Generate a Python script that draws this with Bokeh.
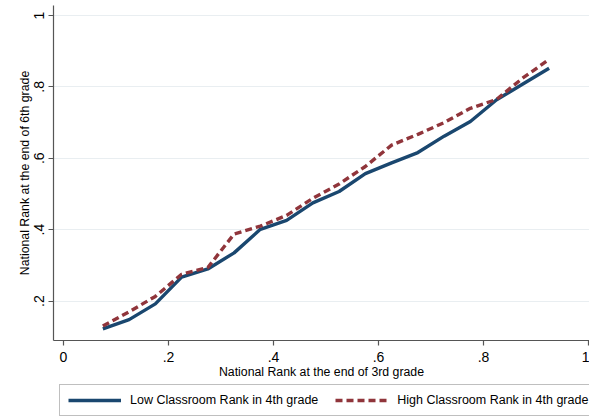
from bokeh.plotting import figure
from bokeh.layouts import column
from bokeh.models import Range1d, FixedTicker, Legend, LegendItem
from bokeh.embed import file_html
from bokeh.resources import INLINE

# ---- data ----
rank3 = [0.075, 0.125, 0.175, 0.225, 0.275, 0.325, 0.375, 0.425, 0.475,
         0.525, 0.575, 0.625, 0.675, 0.725, 0.775, 0.825, 0.875, 0.925]
low_rank6 = [0.122, 0.148, 0.192, 0.267, 0.290, 0.335, 0.401, 0.426, 0.475,
             0.507, 0.557, 0.587, 0.616, 0.662, 0.703, 0.764, 0.808, 0.852]
high_rank6 = [0.130, 0.170, 0.213, 0.275, 0.294, 0.388, 0.410, 0.440, 0.488,
              0.528, 0.577, 0.637, 0.667, 0.700, 0.740, 0.765, 0.825, 0.877]
x_ticks = [0, 0.2, 0.4, 0.6, 0.8, 1]
x_tick_labels = ["0", ".2", ".4", ".6", ".8", "1"]
y_ticks = [0.2, 0.4, 0.6, 0.8, 1]
y_tick_labels = [".2", ".4", ".6", ".8", "1"]
series_names = ["Low Classroom Rank in 4th grade", "High Classroom Rank in 4th grade"]
x_title = "National Rank at the end of 3rd grade"
y_title = "National Rank at the end of 6th grade"

FONT = "Liberation Sans"
NAVY = "#1a476f"
MAROON = "#90353b"
LOW_STYLE = dict(line_color=NAVY, line_width=3.4)
HIGH_STYLE = dict(line_color=MAROON, line_width=3.4, line_dash="7 4")

# ---- main chart ----
p = figure(width=589, height=384, output_backend="svg", toolbar_location=None,
           x_range=Range1d(-0.019, 1.0019), y_range=Range1d(0.0895, 1.028))
p.min_border = 0
p.min_border_left = 53
p.min_border_right = 0
p.min_border_top = 5
p.min_border_bottom = 44
p.outline_line_color = None
p.background_fill_color = "white"
p.border_fill_color = "white"

p.line(rank3, low_rank6, **LOW_STYLE)
p.line(rank3, high_rank6, **HIGH_STYLE)

for ax in (p.xaxis[0], p.yaxis[0]):
    ax.axis_line_color = "#555555"
    ax.axis_line_width = 1.2
    ax.major_tick_line_color = "#555555"
    ax.major_tick_line_width = 1.2
    ax.major_tick_out = 5
    ax.major_tick_in = 0
    ax.minor_tick_line_color = None
    ax.major_label_text_font = FONT
    ax.major_label_text_font_size = "14px"
    ax.major_label_text_color = "black"
    ax.axis_label_text_font = FONT
    ax.axis_label_text_font_size = "12.3px"
    ax.axis_label_text_font_style = "normal"
    ax.axis_label_text_color = "black"
    ax.axis_label_standoff = 0

p.xaxis.ticker = FixedTicker(ticks=x_ticks)
p.xaxis.major_label_overrides = {t: l for t, l in zip(x_ticks, x_tick_labels)}
p.xaxis.major_label_standoff = 6
p.xaxis.axis_label = x_title
p.yaxis.ticker = FixedTicker(ticks=y_ticks)
p.yaxis.major_label_overrides = {t: l for t, l in zip(y_ticks, y_tick_labels)}
p.yaxis.major_label_orientation = "vertical"
p.yaxis.major_label_standoff = 4
p.yaxis.axis_label = y_title

p.xgrid.grid_line_color = None
p.ygrid.ticker = FixedTicker(ticks=y_ticks)
p.ygrid.grid_line_color = "#e9eef1"
p.ygrid.grid_line_width = 1

# ---- legend strip (frame aligned with the chart's frame) ----
lg = figure(width=589, height=34, output_backend="svg", toolbar_location=None,
            x_range=Range1d(-0.019, 1.0019), y_range=Range1d(5, 6),
            x_axis_location=None, y_axis_location=None)
lg.min_border = 0
lg.min_border_left = 53
lg.outline_line_color = None
lg.grid.visible = False
lg.background_fill_color = "white"
lg.border_fill_color = "white"
# same series drawn outside the strip's visible range, only to carry the legend keys
k_low = lg.line(rank3, low_rank6, **LOW_STYLE)
k_high = lg.line(rank3, high_rank6, **HIGH_STYLE)

legend = Legend(items=[LegendItem(label=series_names[0], renderers=[k_low]),
                       LegendItem(label=series_names[1], renderers=[k_high])],
                location=(6, 2), orientation="horizontal")
legend.margin = 0
legend.padding = 8
legend.spacing = 17
legend.glyph_width = 53
legend.glyph_height = 14
legend.label_height = 14
legend.label_standoff = 9
legend.label_text_font = FONT
legend.label_text_font_size = "12.5px"
legend.label_text_color = "black"
legend.border_line_color = "#808080"
legend.border_line_width = 1.3
legend.background_fill_color = "white"
legend.background_fill_alpha = 1
lg.add_layout(legend, "center")

layout = column(p, lg, spacing=0)
open("out.html", "w").write(file_html(layout, INLINE))
